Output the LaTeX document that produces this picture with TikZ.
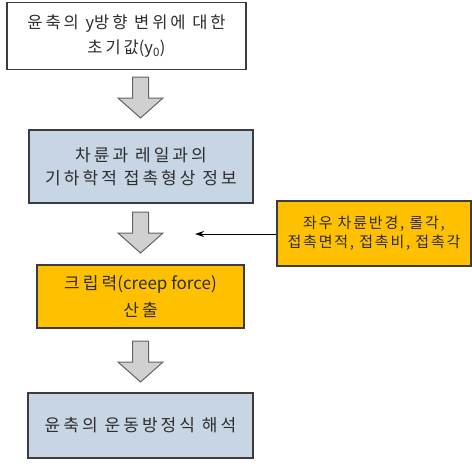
\documentclass[tikz,border=0pt]{standalone}
\usepackage{fontspec}
\setmainfont{Noto Sans CJK KR}
\newfontfamily\mainkr[LetterSpace=18]{Noto Sans CJK KR}
\newfontfamily\sidekr[LetterSpace=12]{Noto Sans CJK KR}
\newfontfamily\latkr{Noto Sans CJK KR}
\usetikzlibrary{arrows.meta,calc}
\definecolor{boxblue}{RGB}{200,213,229}
\definecolor{boxgold}{RGB}{255,192,0}
\definecolor{edge}{RGB}{60,60,60}
\definecolor{arrowgray}{RGB}{208,208,208}
\definecolor{txt}{RGB}{45,45,45}
\tikzset{
  flowbox/.style={draw=edge, line width=1.3pt, text=txt, align=center, inner sep=0pt},
  sidebox/.style={flowbox, font=\sidekr\fontsize{15}{19}\selectfont},
  blockarrow/.style={draw=edge!80, fill=arrowgray, line width=1pt, line join=miter},
  thinarrow/.style={-{Stealth[length=9pt,width=6pt]}, line width=1pt, draw=black}
}
\newcommand{\blockarrowdown}[1]{%
  \draw[blockarrow] ($(#1)+(-8,0)$) -- ++(16,0) -- ++(0,21) -- ++(14.5,0) -- ++(-22.5,20) -- ++(-22.5,-20) -- ++(14.5,0) -- cycle;}
\begin{document}
\begin{tikzpicture}[x=1pt,y=-1pt]
\useasboundingbox (0,0) rectangle (472,466);
\node[flowbox, fill=white, minimum width=239pt, minimum height=67pt, font=\mainkr\fontsize{16.5}{25}\selectfont] (b1) at (126.5,36) {윤축의 {\latkr y}방향 변위에 대한\\초기값{\latkr (y\textsubscript{0})}};
\node[flowbox, fill=boxblue, minimum width=224pt, minimum height=73pt, font=\mainkr\fontsize{17}{23}\selectfont] (b2) at (141,166.5) {차륜과 레일과의\\기하학적 접촉형상 정보};
\node[flowbox, fill=boxgold, minimum width=207pt, minimum height=63pt, font=\mainkr\fontsize{17}{27}\selectfont] (b3) at (140.5,296.5) {크립력{\latkr (creep force)}\\산출};
\node[flowbox, fill=boxblue, minimum width=225pt, minimum height=65pt, font=\mainkr\fontsize{17}{25}\selectfont] (b4) at (140.5,425.5) {윤축의 운동방정식 해석};
\node[sidebox, fill=boxgold, minimum width=194pt, minimum height=65pt] (s) at (374,233.5) {좌우 차륜반경, 롤각,\\접촉면적, 접촉비, 접촉각};
\coordinate (a1) at (140.5,77);
\coordinate (a2) at (140.5,212);
\coordinate (a3) at (140.5,341);
\coordinate (tip) at (195,234);
\blockarrowdown{a1}
\blockarrowdown{a2}
\blockarrowdown{a3}
\draw[thinarrow] (s.west |- tip) -- (tip);
\end{tikzpicture}
\end{document}
